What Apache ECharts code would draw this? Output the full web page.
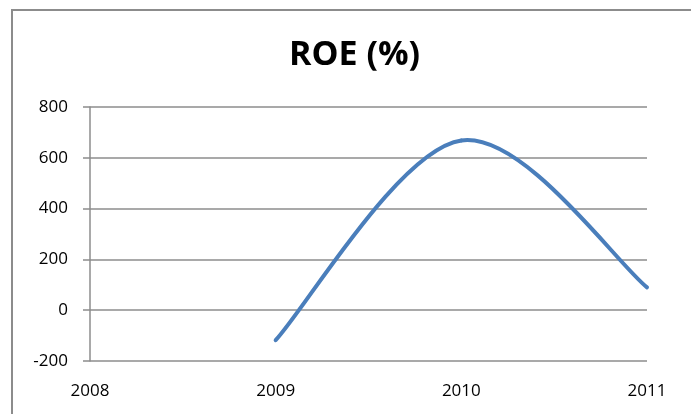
<!DOCTYPE html>
<html>
<head>
<meta charset="utf-8">
<script src="https://cdn.jsdelivr.net/npm/echarts@6/dist/echarts.min.js"></script>
<style>
  html, body { margin: 0; padding: 0; background: #fff; }
  #main { width: 691px; height: 414px; }
</style>
</head>
<body>
<div id="main"></div>
<script>
var years = [2009, 2010, 2011];
var roe = [-118, 668, 90];
var yTicks = [-200, 0, 200, 400, 600, 800];

var chart = echarts.init(document.getElementById('main'));
var font = '"Open Sans", Lato, sans-serif';
var points = years.map(function (y, i) { return [y, roe[i]]; });

// Excel style smoothing: Catmull-Rom segments, end points repeated
function renderSegment(params, api) {
    var i = params.dataIndex;
    if (i >= years.length - 1) return null;
    var p = function (j) {
        j = Math.max(0, Math.min(years.length - 1, j));
        return api.coord([years[j], roe[j]]);
    };
    var p0 = p(i - 1), p1 = p(i), p2 = p(i + 1), p3 = p(i + 2);
    return {
        type: 'bezierCurve',
        shape: {
            x1: p1[0], y1: p1[1],
            x2: p2[0], y2: p2[1],
            cpx1: p1[0] + (p2[0] - p0[0]) / 6, cpy1: p1[1] + (p2[1] - p0[1]) / 6,
            cpx2: p2[0] - (p3[0] - p1[0]) / 6, cpy2: p2[1] - (p3[1] - p1[1]) / 6
        },
        style: { fill: null, stroke: '#4a7ebb', lineWidth: 4, lineCap: 'round' }
    };
}

var option = {
    animation: false,
    title: {
        text: 'ROE (%)',
        left: 284,
        top: 33,
        textStyle: { fontFamily: font, fontSize: 34, fontWeight: 'bold', color: '#000' }
    },
    graphic: [{
        type: 'rect',
        shape: { x: 12, y: 10, width: 700, height: 420 },
        style: { fill: 'none', stroke: '#8c8c8c', lineWidth: 2 },
        silent: true
    }],
    grid: { left: 90, right: 44, top: 107, bottom: 53 },
    xAxis: {
        type: 'value',
        min: 2008,
        max: 2011,
        interval: 1,
        axisLine: { show: false, onZero: false },
        axisTick: { show: false },
        splitLine: { show: false },
        axisLabel: {
            fontFamily: font, fontSize: 17, color: '#000', margin: 22,
            formatter: function (v) { return String(v); }
        }
    },
    yAxis: {
        type: 'value',
        min: yTicks[0],
        max: yTicks[yTicks.length - 1],
        interval: 200,
        axisLine: { show: true, lineStyle: { color: '#8c8c8c', width: 1.5 } },
        axisTick: { show: true, length: 7, lineStyle: { color: '#8c8c8c', width: 1.5 } },
        splitLine: { show: true, lineStyle: { color: '#8c8c8c', width: 1.5 } },
        axisLabel: { fontFamily: font, fontSize: 17, color: '#000', margin: 22 }
    },
    series: [{
        type: 'custom',
        data: points,
        encode: { x: 0, y: 1 },
        renderItem: renderSegment
    }]
};
chart.setOption(option);
</script>
</body>
</html>
